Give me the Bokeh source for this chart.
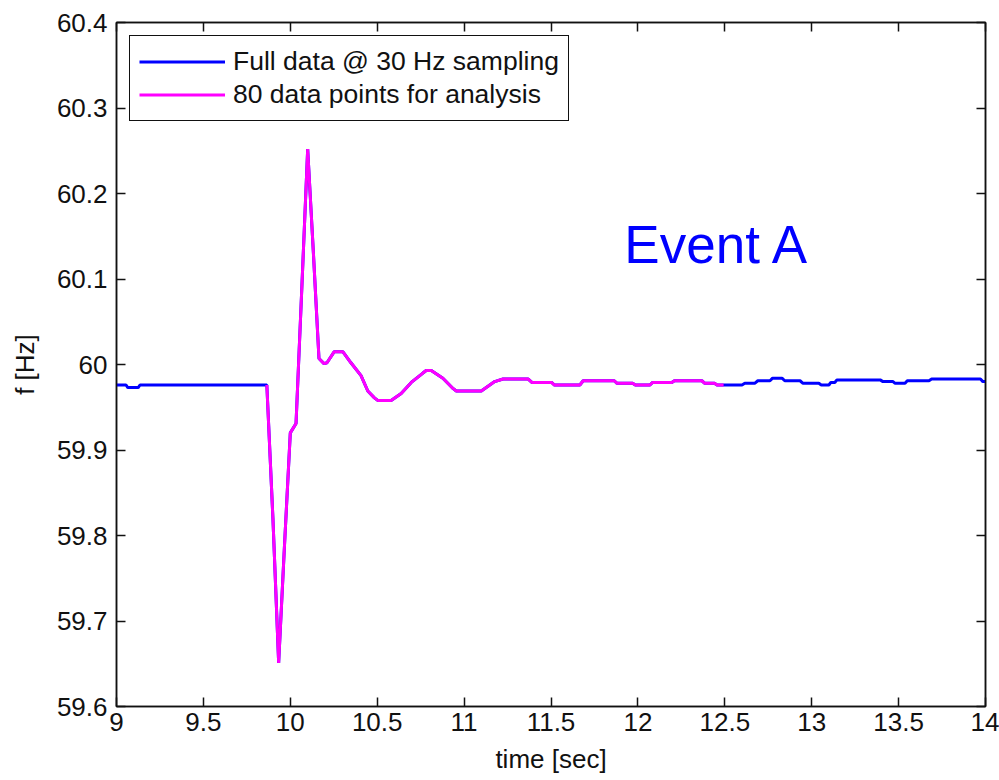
from bokeh.plotting import figure
from bokeh.models import Range1d, FixedTicker, LinearAxis, Legend, LegendItem, CustomJSTickFormatter
from bokeh.core.properties import value
from bokeh.embed import file_html
from bokeh.resources import INLINE

# ---- data ----
# full data before the analysis window
t_pre = [9.000, 9.055, 9.065, 9.125, 9.135, 9.865]
f_pre = [59.976, 59.976, 59.973, 59.973, 59.976, 59.976]

# 80-point analysis window (30 Hz)
t_ana = [9.865, 9.900, 9.933, 9.967, 10.000, 10.033, 10.067, 10.100, 10.133, 10.165,
         10.194, 10.211, 10.253, 10.302, 10.349, 10.407, 10.446, 10.484, 10.503, 10.580,
         10.638, 10.696, 10.763, 10.782, 10.811, 10.878, 10.936, 10.955, 11.099, 11.176,
         11.224, 11.369, 11.390, 11.503, 11.520, 11.666, 11.685, 11.864, 11.880, 11.970,
         11.985, 12.068, 12.085, 12.195, 12.210, 12.368, 12.385, 12.441, 12.455, 12.493]
f_ana = [59.976, 59.820, 59.651, 59.790, 59.920, 59.931, 60.093, 60.252, 60.130, 60.007,
         60.001, 60.002, 60.015, 60.015, 60.002, 59.987, 59.969, 59.961, 59.958, 59.958,
         59.966, 59.979, 59.990, 59.993, 59.993, 59.984, 59.972, 59.969, 59.969, 59.980,
         59.983, 59.983, 59.979, 59.979, 59.976, 59.976, 59.981, 59.981, 59.978, 59.978,
         59.976, 59.976, 59.979, 59.979, 59.981, 59.981, 59.978, 59.978, 59.976, 59.976]

# full data after the analysis window
t_post = [12.493, 12.599, 12.615, 12.672, 12.690, 12.760, 12.775, 12.829, 12.845, 12.933,
          12.950, 13.041, 13.055, 13.099, 13.110, 13.133, 13.145, 13.394, 13.410, 13.468,
          13.480, 13.537, 13.550, 13.675, 13.690, 13.971, 13.985, 14.000]
f_post = [59.976, 59.976, 59.978, 59.978, 59.981, 59.981, 59.984, 59.984, 59.981, 59.981,
          59.978, 59.978, 59.976, 59.976, 59.979, 59.979, 59.982, 59.982, 59.980, 59.980,
          59.978, 59.978, 59.981, 59.981, 59.983, 59.983, 59.980, 59.980]

t_full = t_pre + t_ana + t_post
f_full = f_pre + f_ana + f_post

x_ticks = [9, 9.5, 10, 10.5, 11, 11.5, 12, 12.5, 13, 13.5, 14]
x_tick_labels = ["9", "9.5", "10", "10.5", "11", "11.5", "12", "12.5", "13", "13.5", "14"]
y_ticks = [59.6, 59.7, 59.8, 59.9, 60, 60.1, 60.2, 60.3, 60.4]
y_tick_labels = ["59.6", "59.7", "59.8", "59.9", "60", "60.1", "60.2", "60.3", "60.4"]

legend_labels = ["Full data @ 30 Hz sampling", "80 data points for analysis"]
annotation_text = "Event A"
annotation_pos = (11.922, 60.140)

FONT = "Liberation Sans"
FS = "26px"
INK = "#111111"

p = figure(width=999, height=780, x_range=Range1d(9, 14), y_range=Range1d(59.6, 60.4),
           output_backend="svg", toolbar_location=None,
           min_border_left=116, min_border_right=14, min_border_top=22, min_border_bottom=74,
           x_axis_label="time [sec]", y_axis_label="f [Hz]")
p.grid.visible = False
p.background_fill_color = "white"
p.border_fill_color = "white"
p.outline_line_color = INK
p.outline_line_width = 1.5

for ax in (p.xaxis[0], p.yaxis[0]):
    ax.axis_line_color = INK
    ax.axis_line_width = 1.5
    ax.major_tick_in = 9
    ax.major_tick_out = 0
    ax.major_tick_line_color = INK
    ax.major_tick_line_width = 1.5
    ax.minor_tick_line_color = None
    ax.major_label_text_font = FONT
    ax.major_label_text_font_size = FS
    ax.major_label_text_color = INK
    ax.axis_label_text_font = FONT
    ax.axis_label_text_font_size = FS
    ax.axis_label_text_font_style = "normal"
    ax.axis_label_text_color = INK

p.xaxis[0].ticker = FixedTicker(ticks=x_ticks)
p.xaxis[0].major_label_overrides = dict(zip(x_ticks, x_tick_labels))
p.xaxis[0].major_label_standoff = 6
p.xaxis[0].axis_label_standoff = 10
p.yaxis[0].ticker = FixedTicker(ticks=y_ticks)
p.yaxis[0].major_label_overrides = dict(zip(y_ticks, y_tick_labels))
p.yaxis[0].major_label_standoff = 9
p.yaxis[0].axis_label_standoff = 14

# mirrored ticks on top and right (no labels)
blank = CustomJSTickFormatter(code="return '';")
top = LinearAxis(ticker=FixedTicker(ticks=x_ticks), formatter=blank,
                 major_tick_in=9, major_tick_out=0, minor_tick_line_color=None,
                 axis_line_color=INK, axis_line_width=1.5, major_tick_line_color=INK,
                 major_tick_line_width=1.5, major_label_standoff=0,
                 major_label_text_font_size="10px")
right = LinearAxis(ticker=FixedTicker(ticks=y_ticks), formatter=blank,
                   major_tick_in=9, major_tick_out=0, minor_tick_line_color=None,
                   axis_line_color=INK, axis_line_width=1.5, major_tick_line_color=INK,
                   major_tick_line_width=1.5, major_label_standoff=0,
                   major_label_text_font_size="10px")
p.add_layout(top, "above")
p.add_layout(right, "right")

r_full = p.line(t_full, f_full, line_color="#0000FF", line_width=3)
r_ana = p.line(t_ana, f_ana, line_color="#FF00FF", line_width=3)

p.text(x=[annotation_pos[0]], y=[annotation_pos[1]], text=[annotation_text],
       text_font=value(FONT), text_font_size="53px", text_color="#0000FF",
       text_baseline="alphabetic", text_align="left")

legend = Legend(items=[LegendItem(label=legend_labels[0], renderers=[r_full]),
                       LegendItem(label=legend_labels[1], renderers=[r_ana])],
                location="top_left", margin=13, padding=9, spacing=0,
                glyph_width=86, glyph_height=33, label_height=33, label_standoff=8,
                label_text_font=FONT, label_text_font_size="26.5px", label_text_color=INK,
                border_line_color=INK, border_line_width=1.2, border_line_alpha=1.0,
                background_fill_alpha=1.0)
p.add_layout(legend, "center")

open("out.html", "w").write(file_html(p, INLINE))
